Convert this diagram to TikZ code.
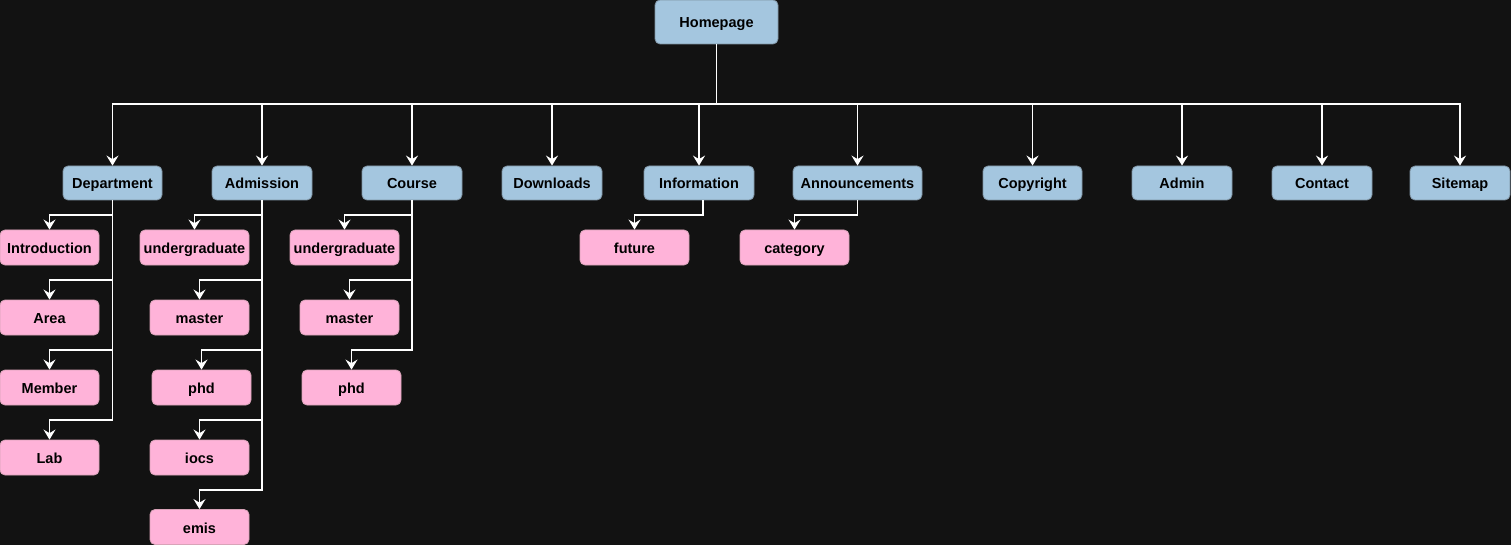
\documentclass[tikz,border=0pt]{standalone}
\usepackage{fontspec}
\setmainfont{Liberation Sans}
\usetikzlibrary{arrows.meta}
\definecolor{bg}{HTML}{121212}
\definecolor{bluefill}{HTML}{A4C6DF}
\definecolor{blueline}{HTML}{7F93A3}
\definecolor{pinkfill}{HTML}{FFB3D9}
\definecolor{pinkline}{HTML}{D9A3B8}
\tikzset{
  box/.style={rounded corners=5pt, inner sep=0pt, line width=0.8pt,
    font=\fontsize{14.5}{17}\selectfont\bfseries, text=black,
    text height=13pt, text depth=1pt},
  bluebox/.style={box, fill=bluefill, draw=blueline, minimum width=100pt, minimum height=34pt},
  pinkbox/.style={box, fill=pinkfill, draw=pinkline, minimum width=99pt, minimum height=35pt},
  arr/.style={draw=white, line width=1.6pt, -{Stealth[length=10pt,width=12pt,inset=3.5pt]}}
}
\begin{document}
\begin{tikzpicture}[x=1pt,y=-1pt]
\fill[bg] (0,0) rectangle (1511,545);
\useasboundingbox (0,0) rectangle (1511,545);
% top
\node[bluebox, minimum width=123pt, minimum height=44pt] (home) at (716.5,22) {Homepage};
% level 1
\node[bluebox, minimum width=99pt] (dept) at (112.5,183) {Department};
\node[bluebox] (adm) at (262,183) {Admission};
\node[bluebox] (course) at (412,183) {Course};
\node[bluebox] (down) at (552,183) {Downloads};
\node[bluebox, minimum width=110pt] (info) at (699,183) {Information};
\node[bluebox, minimum width=129pt] (ann) at (857.5,183) {Announcements};
\node[bluebox, minimum width=99pt] (copy) at (1032.5,183) {Copyright};
\node[bluebox] (admin) at (1182,183) {Admin};
\node[bluebox] (contact) at (1322,183) {Contact};
\node[bluebox] (sitemap) at (1460,183) {Sitemap};
% level 2
\node[pinkbox] (intro) at (49.5,247.5) {Introduction};
\node[pinkbox] (area) at (49.5,317.5) {Area};
\node[pinkbox] (member) at (49.5,387.5) {Member};
\node[pinkbox] (lab) at (49.5,457.5) {Lab};
\node[pinkbox, minimum width=109pt] (aug) at (194.5,247.5) {undergraduate};
\node[pinkbox] (amaster) at (199.5,317.5) {master};
\node[pinkbox] (aphd) at (201.5,387.5) {phd};
\node[pinkbox] (aiocs) at (199.5,457.5) {iocs};
\node[pinkbox] (aemis) at (199.5,527) {emis};
\node[pinkbox, minimum width=109pt] (cug) at (344.5,247.5) {undergraduate};
\node[pinkbox] (cmaster) at (349.5,317.5) {master};
\node[pinkbox] (cphd) at (351.5,387.5) {phd};
\node[pinkbox, minimum width=109pt] (future) at (634.5,247.5) {future};
\node[pinkbox, minimum width=109pt] (category) at (794.5,247.5) {category};
% homepage edges
\foreach \c in {dept,adm,course,down,info,ann,copy,admin,contact,sitemap}
  \draw[arr] (home.south) -- (home.south |- 0,104) -| (\c.north);
% department
\draw[arr] (dept.south) -- (dept.south |- 0,215) -| (intro.north);
\draw[arr] (dept.south) -- (dept.south |- 0,280) -| (area.north);
\draw[arr] (dept.south) -- (dept.south |- 0,350) -| (member.north);
\draw[arr] (dept.south) -- (dept.south |- 0,420) -| (lab.north);
% admission
\draw[arr] (adm.south) -- (adm.south |- 0,215) -| (aug.north);
\draw[arr] (adm.south) -- (adm.south |- 0,280) -| (amaster.north);
\draw[arr] (adm.south) -- (adm.south |- 0,350) -| (aphd.north);
\draw[arr] (adm.south) -- (adm.south |- 0,420) -| (aiocs.north);
\draw[arr] (adm.south) -- (adm.south |- 0,490) -| (aemis.north);
% course
\draw[arr] (course.south) -- (course.south |- 0,215) -| (cug.north);
\draw[arr] (course.south) -- (course.south |- 0,280) -| (cmaster.north);
\draw[arr] (course.south) -- (course.south |- 0,350) -| (cphd.north);
% information, announcements
\draw[arr] ([xshift=4pt]info.south) -- ([xshift=4pt]info.south |- 0,215) -| (future.north);
\draw[arr] (ann.south) -- (ann.south |- 0,215) -| (category.north);
\end{tikzpicture}
\end{document}
